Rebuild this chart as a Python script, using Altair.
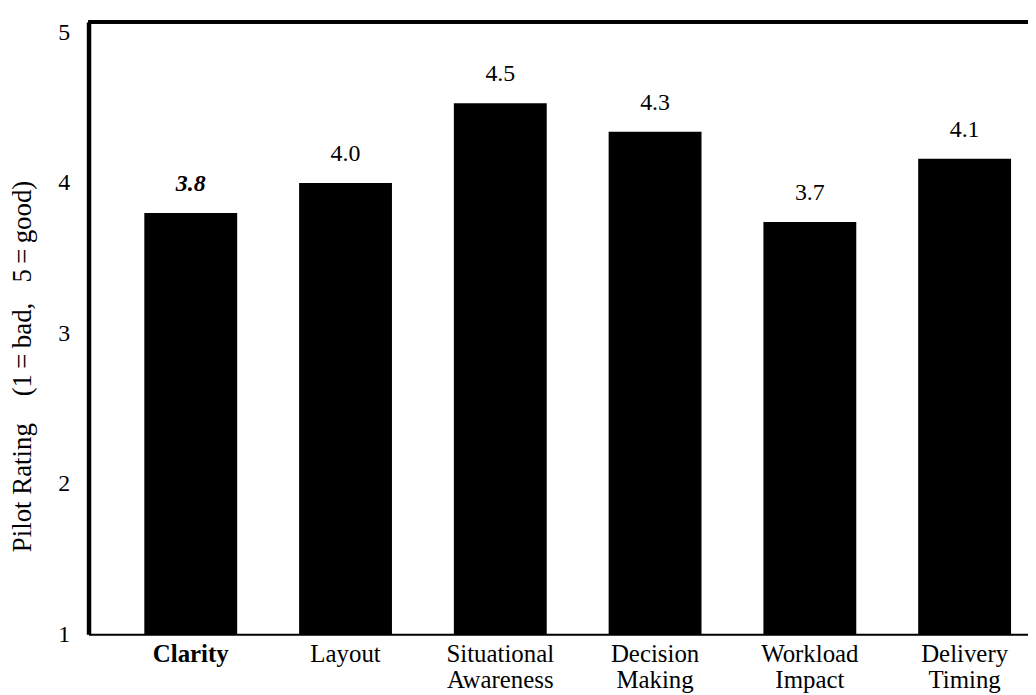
import altair as alt
import pandas as pd

categories = ["Clarity", "Layout", "Situational Awareness", "Decision Making",
              "Workload Impact", "Delivery Timing"]
ratings = [3.80, 4.00, 4.53, 4.34, 3.74, 4.16]
value_labels = ["3.8", "4.0", "4.5", "4.3", "3.7", "4.1"]
y_ticks = [1, 2, 3, 4, 5]
y_title = "Pilot Rating\u00a0\u00a0\u00a0 (1\u2009=\u2009bad,\u00a0\u00a0 5\u2009=\u2009good)"

df = pd.DataFrame({"category": categories, "rating": ratings, "label": value_labels})

FONT = "Liberation Serif"
W, H = 945, 616

x_enc = alt.X(
    "category:N", sort=categories,
    scale=alt.Scale(paddingInner=0.4, paddingOuter=0.235, align=0.767),
    axis=alt.Axis(
        title=None, labelAngle=0, ticks=False, grid=False,
        domain=True, domainColor="black", domainWidth=2,
        labelFont=FONT, labelFontSize=25, labelColor="black",
        labelLineHeight=26, labelPadding=7,
        labelExpr="split(datum.label, ' ')",
        labelFontWeight={"condition": {"test": "datum.value === 'Clarity'", "value": "bold"},
                         "value": "normal"},
    ),
)
y_enc = alt.Y(
    "rating:Q",
    scale=alt.Scale(domain=[1, 5.07], nice=False, zero=False),
    axis=alt.Axis(
        title=y_title, values=y_ticks, format="d",
        ticks=False, grid=False,
        domain=True, domainColor="black", domainWidth=4.5,
        labelFont=FONT, labelFontSize=24, labelColor="black", labelPadding=19,
        titleFont=FONT, titleFontSize=27, titleFontWeight="normal", titleColor="black",
        titlePadding=21, titleY=346, titleLimit=600,
    ),
)

base = alt.Chart(df)

bars = base.mark_bar(color="black").encode(x=x_enc, y=y_enc, y2=alt.datum(1))

text_plain = base.transform_filter("datum.category !== 'Clarity'").mark_text(
    font=FONT, fontSize=24, color="black", baseline="alphabetic", dy=-22
).encode(x=alt.X("category:N", sort=categories), y="rating:Q", text="label:N")

text_bold = base.transform_filter("datum.category === 'Clarity'").mark_text(
    font=FONT, fontSize=24, color="black", baseline="alphabetic", dy=-22,
    fontWeight="bold", fontStyle="italic"
).encode(x=alt.X("category:N", sort=categories), y="rating:Q", text="label:N")

top_border = alt.Chart(df).mark_rule(color="black", strokeWidth=3).encode(
    x=alt.value(0), x2=alt.value(W), y=alt.value(0)
)

chart = alt.layer(bars, text_plain, text_bold, top_border).properties(
    width=W, height=H,
    autosize=alt.AutoSizeParams(type="none"),
    padding={"left": 81, "top": 12, "right": 0, "bottom": 59},
).configure_view(stroke=None).configure(background="white")

chart.save("out.html", embed_options={"renderer": "svg", "actions": False})
